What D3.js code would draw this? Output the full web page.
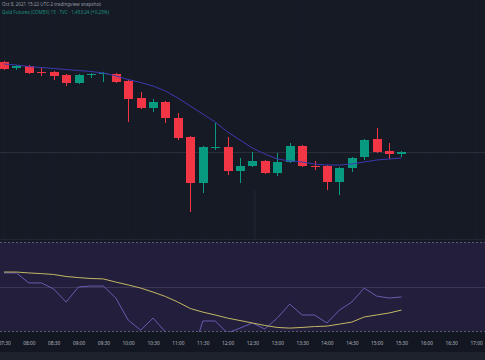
<!DOCTYPE html>
<html>
<head>
<meta charset="utf-8">
<script src="https://cdn.jsdelivr.net/npm/d3@7"></script>
<style>
  html, body { margin: 0; padding: 0; background: #161a25; }
  svg { display: block; font-family: "Noto Sans", sans-serif; }
</style>
</head>
<body>
<script>
// 15 min candles, 07:30 .. 15:30
var times = ['07:30','07:45','08:00','08:15','08:30','08:45','09:00','09:15','09:30','09:45',
             '10:00','10:15','10:30','10:45','11:00','11:15','11:30','11:45','12:00','12:15',
             '12:30','12:45','13:00','13:15','13:30','13:45','14:00','14:15','14:30','14:45',
             '15:00','15:15','15:30']
var opens  = [1499,1496,1497,1494,1494,1492.5,1488.5,1492.5,1493.25,1493,
              1489.5,1481,1476,1479,1471,1461.5,1438.5,1456.25,1456.5,1444.5,
              1447,1449.5,1443.5,1449,1457,1447,1447,1439,1446,1451.5,
              1460.5,1454.5,1453]
var highs  = [1499.5,1497.5,1497.5,1496,1494.5,1493,1493,1493.5,1494,1493.5,
              1490,1484,1480.5,1479.5,1473.5,1462,1457,1468.5,1461.5,1451,
              1454,1450,1453.5,1458.5,1457.5,1449.5,1447.5,1446.5,1451.5,1460.5,
              1466,1458.5,1454.5]
var lows   = [1495,1495,1493,1492,1490,1487,1488,1491,1489,1488.5,
              1469,1475.5,1474,1468.5,1460,1424,1433.5,1455,1442.5,1438.5,
              1446.5,1443,1442,1448.5,1446.5,1445,1435,1432.5,1444,1450,
              1453.5,1450.5,1451.5]
var closes = [1495.5,1497,1493.5,1493.75,1492,1488.5,1492.5,1493,1493.5,1489,
              1480.5,1476,1479,1471,1461,1438.5,1456.5,1456.5,1444.5,1447,
              1449.5,1443.5,1449,1457,1447,1446.5,1439,1446,1451,1460,
              1454,1453,1454]
var maLine = [1498,1497.5,1496.75,1496.25,1495.75,1495.25,1494.75,1494.25,1493.5,1492,
              1490.25,1488.75,1487,1484.5,1481,1477,1473,1469,1464,1460,
              1456,1453,1450.5,1449.5,1449,1448,1447.5,1447.5,1448,1449,
              1450,1450.5,1451]
var rsi    = [56.1,56.1,51.6,51.6,48.9,43.0,49.8,50.2,50.2,44.8,
              34.9,30.4,35.8,29.6,22.8,16.0,34.5,34.5,29.1,31.3,
              33.6,30.9,35.8,42.1,37.2,37.2,33.6,39.4,43.0,49.3,
              45.7,44.8,45.3]
var rsiMa  = [56.5,56.5,56.1,55.8,55.4,54.5,54.0,53.6,53.4,52.0,
              50.7,49.3,47.5,45.5,43.0,40.1,38.5,37.2,35.8,34.7,
              33.6,32.5,31.6,31.3,31.6,32.0,32.2,33.1,34.0,36.3,
              37.2,38.1,39.4]
var tickLabels = ['07:30','08:00','08:30','09:00','09:30','10:00','10:30','11:00','11:30','12:00',
                  '12:30','13:00','13:30','14:00','14:30','15:00','15:30','16:00','16:30','17:00']
var rsiLevels = [70, 50, 30]

var width = 485, height = 360
var parse = d3.timeParse('%H:%M')

var data = times.map((t, i) => ({
    t: parse(t), o: opens[i], h: highs[i], l: lows[i], c: closes[i],
    ma: maLine[i], rsi: rsi[i], rsiMa: rsiMa[i]
}))

var svg = d3.select('body').append('svg')
    .attr('width', width)
    .attr('height', height)

// panes
var mainTop = 0, mainBottom = 239,
    rsiTop = 240, rsiBottom = 332,
    axisBottom = 352

svg.append('rect').attr('width', width).attr('height', height).attr('fill', '#161a25')
svg.append('rect').attr('y', axisBottom).attr('width', width).attr('height', height - axisBottom).attr('fill', '#1e222d')

var xScale = d3.scaleTime()
    .domain([parse('07:30'), parse('17:00')])
    .range([4, 476])

var yScale = d3.scaleLinear()
    .domain([1410, 1530])
    .range([240, 0])

var rsiScale = d3.scaleLinear()
    .domain([30, 70])
    .range([331, 242])

// vertical grid (barely visible)
svg.append('g').selectAll('line').data(tickLabels).enter()
    .append('line')
    .attr('x1', d => xScale(parse(d)) + .5)
    .attr('x2', d => xScale(parse(d)) + .5)
    .attr('y1', mainTop)
    .attr('y2', rsiBottom)
    .attr('stroke', '#191d29')

// crosshair vertical line, only seen in the gap
svg.append('line')
    .attr('x1', xScale(parse('12:30')) + 2.5).attr('x2', xScale(parse('12:30')) + 2.5)
    .attr('y1', 190).attr('y2', rsiTop)
    .attr('stroke', '#232736')

// last price line
svg.append('line')
    .attr('x1', 0).attr('x2', width)
    .attr('y1', yScale(closes[closes.length - 1]) + .5)
    .attr('y2', yScale(closes[closes.length - 1]) + .5)
    .attr('stroke', '#2a2e3a')

// pane separator
svg.append('line')
    .attr('x1', 0).attr('x2', width)
    .attr('y1', mainBottom + .5).attr('y2', mainBottom + .5)
    .attr('stroke', '#222633')

// header
svg.append('text')
    .attr('x', 2).attr('y', 6)
    .attr('font-size', 4.6)
    .attr('fill', '#9598a1')
    .text('Oct 8, 2021 15:22 UTC-2 tradingview snapshot')
svg.append('text')
    .attr('x', 2).attr('y', 14)
    .attr('font-size', 4.6)
    .attr('fill', '#1b8f7d')
    .text('Gold Futures (COMEX) 15 · TVC · 1,453.24 (+0.25%)')

// candles
var bodyW = 9
var up = d => d.c >= d.o
var candleColor = d => up(d) ? '#089981' : '#f23645'

var candles = svg.append('g').selectAll('g').data(data).enter().append('g')

candles.append('line')
    .attr('x1', d => Math.round(xScale(d.t)) + .5)
    .attr('x2', d => Math.round(xScale(d.t)) + .5)
    .attr('y1', d => yScale(d.h))
    .attr('y2', d => yScale(d.l))
    .attr('stroke', candleColor)

candles.append('rect')
    .attr('x', d => Math.round(xScale(d.t)) - (bodyW - 1) / 2)
    .attr('y', d => yScale(Math.max(d.o, d.c)))
    .attr('width', bodyW)
    .attr('height', d => Math.max(1, Math.abs(yScale(d.o) - yScale(d.c))))
    .attr('fill', candleColor)

// moving average
svg.append('path')
    .datum(data)
    .attr('fill', 'none')
    .attr('stroke', '#3b39b0')
    .attr('stroke-width', 1)
    .attr('d', d3.line().x(d => xScale(d.t)).y(d => yScale(d.ma)))

// RSI pane
svg.append('clipPath').attr('id', 'rsiClip')
    .append('rect').attr('x', 0).attr('y', rsiTop).attr('width', width).attr('height', rsiBottom - rsiTop)

svg.append('rect')
    .attr('x', 0).attr('width', width)
    .attr('y', rsiScale(70)).attr('height', rsiScale(30) - rsiScale(70))
    .attr('fill', '#221e3b')

svg.append('g').selectAll('line').data(rsiLevels).enter()
    .append('line')
    .attr('x1', 0).attr('x2', width)
    .attr('y1', d => Math.round(rsiScale(d)) + .5)
    .attr('y2', d => Math.round(rsiScale(d)) + .5)
    .attr('stroke', d => d == 50 ? '#3a3656' : '#5c5873')
    .attr('stroke-dasharray', d => d == 50 ? null : '2,2')

var rsiG = svg.append('g').attr('clip-path', 'url(#rsiClip)')

rsiG.append('path')
    .datum(data)
    .attr('fill', 'none')
    .attr('stroke', '#6e63bd')
    .attr('stroke-width', 0.9)
    .attr('d', d3.line().x(d => xScale(d.t)).y(d => rsiScale(d.rsi)))

rsiG.append('path')
    .datum(data)
    .attr('fill', 'none')
    .attr('stroke', '#c4b866')
    .attr('stroke-width', 1)
    .attr('d', d3.line().x(d => xScale(d.t)).y(d => rsiScale(d.rsiMa)))

// x axis
svg.append('rect')
    .attr('x', 0).attr('y', rsiBottom + 1)
    .attr('width', width).attr('height', axisBottom - rsiBottom - 1)
    .attr('fill', '#131722')

var xAxisG = svg.append('g')
    .attr('transform', 'translate(0,' + (rsiBottom + 1) + ')')
    .call(d3.axisBottom(xScale)
        .tickValues(tickLabels.map(parse))
        .tickFormat(d3.timeFormat('%H:%M'))
        .tickSize(0)
        .tickPadding(9))
    .call(g => g.select('.domain').remove())

xAxisG.selectAll('.tick text')
    .attr('fill', '#b2b5be')
    .attr('font-size', 4.8)
    .attr('font-family', '"Noto Sans", sans-serif')
</script>
</body>
</html>
